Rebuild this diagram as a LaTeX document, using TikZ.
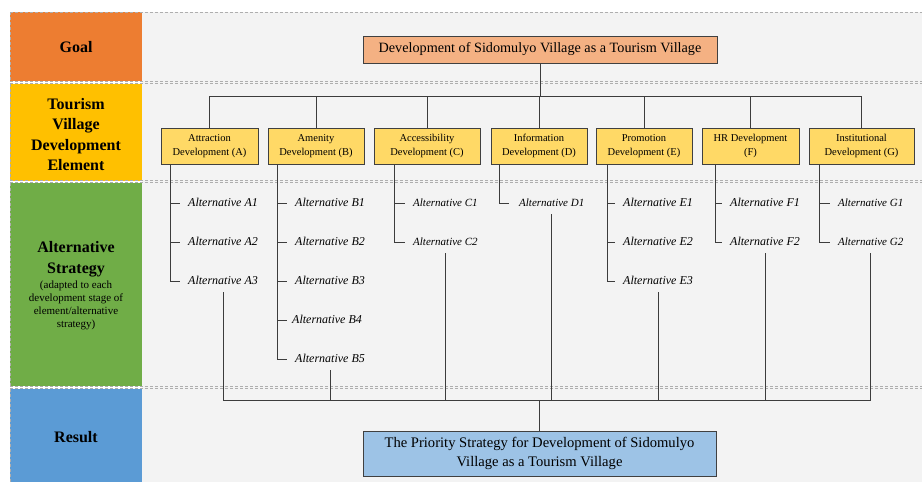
\documentclass[tikz,border=0pt]{standalone}
\usepackage{fontspec}
\setmainfont{Liberation Serif}
\definecolor{bandO}{HTML}{ED7D31}
\definecolor{bandY}{HTML}{FFC000}
\definecolor{bandG}{HTML}{70AD47}
\definecolor{bandB}{HTML}{5B9BD5}
\definecolor{panel}{HTML}{F3F3F3}
\definecolor{goalfill}{HTML}{F4B183}
\definecolor{elemfill}{HTML}{FFD966}
\definecolor{resfill}{HTML}{9DC3E6}
\definecolor{linec}{HTML}{3C3C3C}
\definecolor{boxc}{HTML}{404040}
\definecolor{dashc}{HTML}{AEAEAE}
\begin{document}
\begin{tikzpicture}[x=1pt,y=-1pt,
  conn/.style={draw=linec, line width=1pt},
  sepline/.style={draw=dashc, line width=1pt, dash pattern=on 3pt off 2pt},
  bandtxt/.style={font=\fontsize{16}{20.5}\selectfont\bfseries, align=center, inner sep=0pt},
  elem/.style={draw=boxc, line width=1pt, fill=elemfill, minimum height=36pt, inner sep=1pt, align=center, font=\fontsize{10.5}{14}\selectfont},
  alt/.style={anchor=west, inner sep=0pt, text height=8pt, text depth=2pt, font=\fontsize{12}{13}\selectfont\itshape},
  altsm/.style={alt, font=\fontsize{11}{13}\selectfont\itshape},
]
\useasboundingbox (0,0) rectangle (922,482);
\fill[white] (0,0) rectangle (922,482);
% panel and bands
\fill[panel] (142,12) rectangle (922,482);
\fill[bandO] (10,12) rectangle (142,81);
\fill[bandY] (10,84) rectangle (142,180.5);
\fill[bandG] (10,182.5) rectangle (142,386);
\fill[bandB] (10,388.5) rectangle (142,482);
% dashed separators
\draw[sepline] (10,12) -- (922,12);
\draw[sepline] (10,81) -- (922,81);
\draw[sepline] (10,83.5) -- (922,83.5);
\draw[sepline] (10,180.5) -- (922,180.5);
\draw[sepline] (10,182.5) -- (922,182.5);
\draw[sepline] (10,386) -- (922,386);
\draw[sepline] (10,388.5) -- (922,388.5);
\draw[sepline] (10,12) -- (10,81);
\draw[sepline] (10,83.5) -- (10,180.5);
\draw[sepline] (10,182.5) -- (10,386);
\draw[sepline] (10,388.5) -- (10,482);
% band labels
\node[bandtxt] (lgoal) at (76,47) {Goal};
\node[bandtxt] (lelem) at (76,134.5) {Tourism\\Village\\Development\\Element};
\node[bandtxt] (lalt) at (76,259) {Alternative\\Strategy};
\node[align=center, inner sep=0pt, font=\fontsize{11}{13}\selectfont] (lalts) at (76,305.5) {(adapted to each\\development stage of\\element/alternative\\strategy)};
\node[bandtxt] (lres) at (76,437) {Result};
% goal box
\node[draw=boxc, line width=1pt, fill=goalfill, minimum width=354pt, minimum height=27pt, inner sep=1pt, font=\fontsize{14.2}{16}\selectfont] (Goal) at (540,49.5) {Development of Sidomulyo Village as a Tourism Village};
% element boxes
\node[elem, minimum width=97pt] (A) at (209.5,146) {Attraction\\Development (A)};
\node[elem, minimum width=96pt] (B) at (316,146) {Amenity\\Development (B)};
\node[elem, minimum width=106pt] (C) at (427,146) {Accessibility\\Development (C)};
\node[elem, minimum width=96pt] (D) at (539,146) {Information\\Development (D)};
\node[elem, minimum width=96pt] (E) at (644,146) {Promotion\\Development (E)};
\node[elem, minimum width=97pt] (F) at (750.5,146) {HR Development\\(F)};
\node[elem, minimum width=105pt] (G) at (861.5,146) {Institutional\\Development (G)};
% result box
\node[draw=boxc, line width=1pt, fill=resfill, minimum width=353pt, minimum height=45pt, inner sep=1pt, align=center, font=\fontsize{14.6}{19}\selectfont] (R) at (539.5,453.5) {The Priority Strategy for Development of Sidomulyo\\Village as a Tourism Village};
% top connectors
\coordinate (tbus) at (540,96);
\draw[conn] (Goal.south) -- (Goal.south |- tbus);
\draw[conn] (A.north |- tbus) -- (G.north |- tbus);
\foreach \n in {A,B,C,D,E,F,G} {\draw[conn] (\n.north) -- (\n.north |- tbus);}
% alternatives
\node[alt] (a1) at (188,203) {Alternative A1};
\node[alt] (a2) at (188,242) {Alternative A2};
\node[alt] (a3) at (188,281) {Alternative A3};
\node[alt] (b1) at (295,203) {Alternative B1};
\node[alt] (b2) at (295,242) {Alternative B2};
\node[alt] (b3) at (295,281) {Alternative B3};
\node[alt] (b4) at (292,320) {Alternative B4};
\node[alt] (b5) at (295,359) {Alternative B5};
\node[altsm] (c1) at (413,203) {Alternative C1};
\node[altsm] (c2) at (413,242) {Alternative C2};
\node[altsm] (d1) at (519,203) {Alternative D1};
\node[alt] (e1) at (623,203) {Alternative E1};
\node[alt] (e2) at (623,242) {Alternative E2};
\node[alt] (e3) at (623,281) {Alternative E3};
\node[alt] (f1) at (730,203) {Alternative F1};
\node[alt] (f2) at (730,242) {Alternative F2};
\node[altsm] (g1) at (838,203) {Alternative G1};
\node[altsm] (g2) at (838,242) {Alternative G2};
% trunks
\coordinate (tA) at ([xshift=10pt]A.south west);
\coordinate (tB) at ([xshift=10pt]B.south west);
\coordinate (tC) at ([xshift=21pt]C.south west);
\coordinate (tD) at ([xshift=9pt]D.south west);
\coordinate (tE) at ([xshift=12pt]E.south west);
\coordinate (tF) at ([xshift=14pt]F.south west);
\coordinate (tG) at ([xshift=11pt]G.south west);
\draw[conn] (tA) |- ([xshift=-8pt]a3.west);
\draw[conn] (tA |- a1.west) -- ([xshift=-8pt]a1.west);
\draw[conn] (tA |- a2.west) -- ([xshift=-8pt]a2.west);
\draw[conn] (tB) |- ([xshift=-8pt]b5.west);
\draw[conn] (tB |- b1.west) -- ([xshift=-8pt]b1.west);
\draw[conn] (tB |- b2.west) -- ([xshift=-8pt]b2.west);
\draw[conn] (tB |- b3.west) -- ([xshift=-8pt]b3.west);
\draw[conn] (tB |- b4.west) -- ([xshift=-5pt]b4.west);
\draw[conn] (tC) |- ([xshift=-8pt]c2.west);
\draw[conn] (tC |- c1.west) -- ([xshift=-8pt]c1.west);
\draw[conn] (tD) |- ([xshift=-10pt]d1.west);
\draw[conn] (tE) |- ([xshift=-8pt]e3.west);
\draw[conn] (tE |- e1.west) -- ([xshift=-8pt]e1.west);
\draw[conn] (tE |- e2.west) -- ([xshift=-8pt]e2.west);
\draw[conn] (tF) |- ([xshift=-8pt]f2.west);
\draw[conn] (tF |- f1.west) -- ([xshift=-8pt]f1.west);
\draw[conn] (tG) |- ([xshift=-8pt]g2.west);
\draw[conn] (tG |- g1.west) -- ([xshift=-8pt]g1.west);
% bottom connectors
\coordinate (bus) at (540,400.5);
\foreach \n in {a3,b5,c2,d1,e3,f2,g2} {\draw[conn] ([yshift=-6pt]\n.south) -- (\n.south |- bus);}
\draw[conn] (a3.south |- bus) -- (g2.south |- bus);
\draw[conn] (R.north |- bus) -- (R.north);
\end{tikzpicture}
\end{document}
